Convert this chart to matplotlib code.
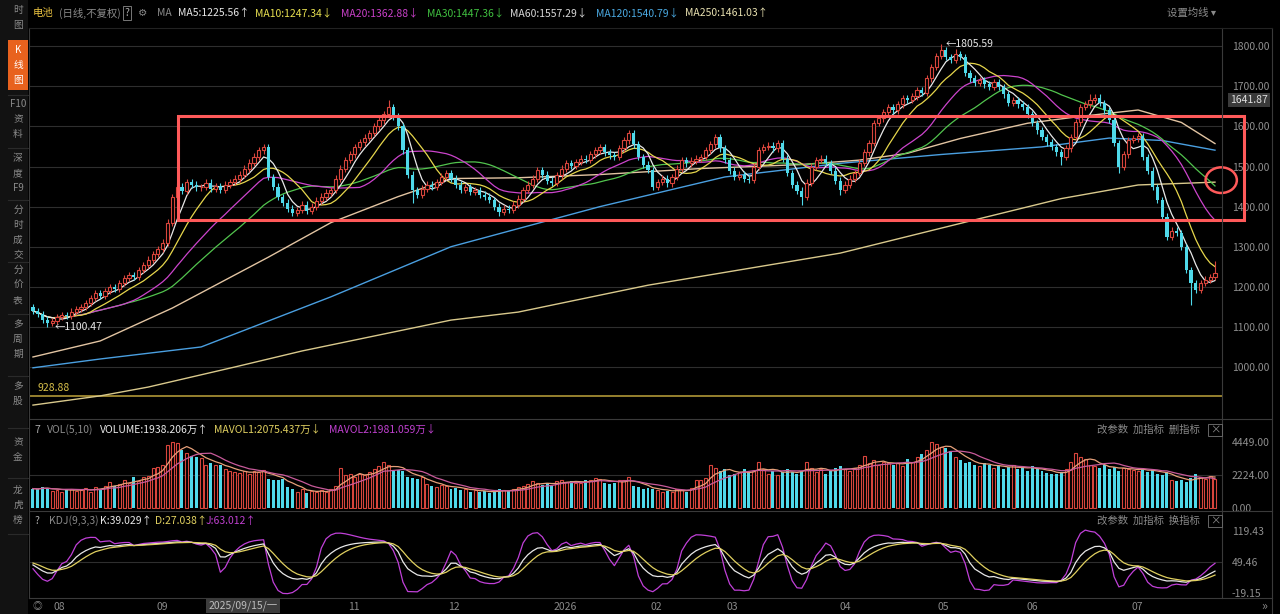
import numpy as np
import pandas as pd
import matplotlib
matplotlib.use('Agg')
import matplotlib.pyplot as plt
from matplotlib.patches import Rectangle, Ellipse
from matplotlib.lines import Line2D

plt.rcParams['font.family'] = ['Noto Sans CJK SC', 'DejaVu Sans']

# ---------------- data ----------------
closes = [
    1140, 1132, 1118, 1110, 1115, 1125, 1130, 1128, 1138, 1145,
    1150, 1160, 1172, 1185, 1178, 1190, 1200, 1195, 1210, 1222,
    1230, 1225, 1242, 1255, 1268, 1282, 1295, 1310, 1360, 1424,
    1450, 1440, 1462, 1455, 1448, 1449, 1460, 1445, 1452, 1441,
    1455, 1462, 1470, 1480, 1495, 1510, 1525, 1540, 1549, 1474,
    1450, 1424, 1410, 1395, 1384, 1392, 1405, 1390, 1400, 1415,
    1425, 1435, 1441, 1470, 1495, 1516, 1530, 1548, 1560, 1572,
    1583, 1600, 1615, 1630, 1648, 1625, 1600, 1540, 1480, 1441,
    1430, 1445, 1455, 1449, 1462, 1475, 1484, 1470, 1455, 1441,
    1448, 1436, 1441, 1430, 1425, 1417, 1400, 1387, 1395, 1392,
    1405, 1420, 1441, 1455, 1470, 1491, 1480, 1465, 1459, 1478,
    1495, 1509, 1502, 1512, 1520, 1516, 1530, 1540, 1549, 1535,
    1528, 1524, 1545, 1565, 1583, 1555, 1524, 1505, 1491, 1449,
    1462, 1470, 1458, 1474, 1495, 1516, 1508, 1515, 1520, 1524,
    1540, 1555, 1574, 1545, 1516, 1490, 1474, 1480, 1470, 1466,
    1500, 1541, 1548, 1552, 1545, 1558, 1520, 1484, 1455, 1440,
    1424, 1460, 1500, 1516, 1520, 1509, 1490, 1465, 1441, 1455,
    1470, 1484, 1510, 1535, 1558, 1608, 1620, 1635, 1648, 1640,
    1655, 1670, 1666, 1675, 1690, 1683, 1720, 1748, 1775, 1790,
    1773, 1765, 1780, 1773, 1733, 1720, 1708, 1715, 1705, 1698,
    1710, 1698, 1680, 1658, 1665, 1655, 1648, 1630, 1608, 1590,
    1574, 1560, 1549, 1535, 1524, 1545, 1574, 1610, 1648, 1655,
    1666, 1672, 1658, 1640, 1616, 1558, 1499, 1530, 1566, 1570,
    1575, 1524, 1490, 1449, 1416, 1375, 1324, 1340, 1334, 1299,
    1242, 1210, 1192, 1209, 1218, 1225, 1234]

first_open = 1150
special_highs = {48: 1556, 74: 1666, 124: 1592, 142: 1582, 155: 1566,
                 189: 1805.59, 192: 1792, 220: 1682, 246: 1265}
special_lows = {3: 1100.47, 54: 1376, 79: 1408, 97: 1376, 160: 1405,
                168: 1428, 214: 1505, 226: 1485, 241: 1155}

volumes = [
    1300, 1250, 1400, 1350, 1150, 1200, 1100, 1300, 1250, 1150,
    1200, 1350, 1100, 1400, 1300, 1500, 1750, 1450, 1600, 1900,
    1700, 2100, 1800, 2050, 2150, 2700, 2750, 2900, 4200, 4450,
    4350, 3900, 3680, 3500, 3400, 3350, 2900, 3000, 2850, 2900,
    2600, 2450, 2400, 2350, 2500, 2300, 2450, 2400, 2550, 1950,
    1900, 1850, 1950, 1400, 1300, 1100, 1250, 1000, 1150, 1050,
    1200, 1100, 1300, 1500, 2700, 2200, 2250, 2100, 2300, 2200,
    2400, 2600, 2800, 3100, 2900, 2500, 2550, 2450, 2100, 2000,
    1950, 2050, 1600, 1500, 1400, 1550, 1450, 1300, 1350, 1200,
    1250, 1100, 1200, 1050, 1150, 1000, 1100, 1300, 1200, 1150,
    1250, 1400, 1500, 1600, 1800, 1700, 1550, 1650, 1500, 1800,
    1900, 1750, 1800, 1650, 1700, 1850, 1900, 2000, 1950, 1700,
    1600, 1700, 1850, 1900, 2050, 1500, 1400, 1300, 1350, 1250,
    1200, 1100, 1150, 1050, 1300, 1200, 1100, 1350, 1900, 1850,
    2000, 2900, 2700, 2500, 2600, 2200, 2300, 2400, 2600, 2350,
    2450, 3100, 2600, 2300, 2500, 2200, 2400, 2600, 2400, 2300,
    2500, 3100, 2700, 2400, 2600, 2300, 2500, 2700, 2800, 2600,
    2500, 2700, 2900, 3500, 3000, 3200, 2900, 3100, 3000, 2900,
    3000, 2800, 3300, 3100, 3400, 3600, 3900, 4400, 4300, 4100,
    4000, 3800, 3400, 3200, 3000, 3100, 2900, 2800, 3000, 2900,
    2700, 2800, 2600, 2750, 2900, 2600, 2700, 2500, 2800, 2600,
    2500, 2350, 2300, 2250, 2400, 2600, 3100, 3700, 3400, 3300,
    2900, 2800, 2700, 2850, 2600, 2750, 2500, 2700, 2600, 2550,
    2500, 2650, 2400, 2550, 2300, 2200, 2400, 1900, 1800, 1850,
    1750, 2000, 2300, 2050, 1950, 2150, 1938.206]

# long moving averages (bar index, value)
ma60_idx = [0, 14, 29, 49, 62, 76, 87, 101, 118, 139, 160, 172, 182, 193, 207, 218, 230, 239, 246]
ma60_val = [1025, 1065, 1147, 1274, 1360, 1425, 1470, 1472, 1480, 1495, 1505, 1516, 1533, 1570,
            1608, 1625, 1641, 1610, 1557.29]
ma120_idx = [0, 14, 35, 62, 87, 100, 118, 144, 168, 189, 210, 224, 235, 246]
ma120_val = [998, 1020, 1050, 1175, 1300, 1342, 1400, 1474, 1508, 1530, 1549, 1571, 1565, 1540.79]
ma250_idx = [0, 14, 24, 42, 56, 87, 101, 128, 168, 196, 214, 230, 246]
ma250_val = [905, 928, 950, 1000, 1040, 1117, 1137, 1204, 1284, 1367, 1420, 1454, 1461.03]

price_levels = [1000, 1100, 1200, 1300, 1400, 1500, 1600, 1700, 1800]
vol_levels = [0, 2224, 4449]
kdj_levels = [-19.15, 49.46, 119.43]
tick_idx = [5.4, 27, 66.7, 87.5, 110.8, 129.8, 145.6, 169, 189.4, 208, 229.8]
tick_labels = ['08', '09', '11', '12', '2026', '02', '03', '04', '05', '06', '07']
support_level = 928.88

# ---------------- derived series ----------------
c = np.array(closes, dtype=float)
N = len(c)
o = np.r_[first_open, c[:-1]]
hi = np.maximum(o, c) + 8
lo = np.minimum(o, c) - 8
for k, v in special_highs.items():
    hi[k] = v
for k, v in special_lows.items():
    lo[k] = v
v = np.array(volumes, dtype=float)
x = np.arange(N)
up = c >= o

s = pd.Series(c)
ma5 = s.rolling(5, min_periods=1).mean()
ma10 = s.rolling(10, min_periods=1).mean()
ma20 = s.rolling(20, min_periods=1).mean()
ma30 = s.rolling(30, min_periods=1).mean()
vs = pd.Series(v)
mavol1 = vs.rolling(5, min_periods=1).mean()
mavol2 = vs.rolling(10, min_periods=1).mean()

low9 = pd.Series(lo).rolling(9, min_periods=1).min().values
high9 = pd.Series(hi).rolling(9, min_periods=1).max().values
rsv = (c - low9) / np.where(high9 - low9 == 0, 1, high9 - low9) * 100
K = np.zeros(N); D = np.zeros(N)
kp, dp = 50.0, 50.0
for i in range(N):
    kp = 2 / 3 * kp + rsv[i] / 3
    dp = 2 / 3 * dp + kp / 3
    K[i], D[i] = kp, dp
J = 3 * K - 2 * D

# ---------------- figure ----------------
W, H = 1280, 614
fig = plt.figure(figsize=(12.8, 6.14), dpi=100, facecolor='#000000')

def rect(x0, y0, x1, y1):
    return [x0 / W, 1 - y1 / H, (x1 - x0) / W, (y1 - y0) / H]

def ftext(px, py, s, color='#8a8a8a', size=7.5, ha='left', **kw):
    return fig.text(px / W, 1 - py / H, s, color=color, fontsize=size, ha=ha, va='center', **kw)

def fline(x0, y0, x1, y1, color='#3a3a3a', lw=0.8):
    fig.add_artist(Line2D([x0 / W, x1 / W], [1 - y0 / H, 1 - y1 / H], color=color, lw=lw))

RED = '#d8453c'
CYAN = '#4fd9ea'
GRID = '#2e2e2e'
XL = (-0.62, 247.46)

ax = fig.add_axes(rect(30, 28, 1222, 418), facecolor='#000000')
axv = fig.add_axes(rect(30, 420, 1222, 509), facecolor='#000000')
axk = fig.add_axes(rect(30, 512, 1222, 598), facecolor='#000000')

for a in (ax, axv, axk):
    a.set_xlim(*XL)
    for sp in a.spines.values():
        sp.set_visible(False)
    a.yaxis.set_ticks_position('right')
    a.tick_params(axis='y', length=0, pad=7, labelcolor='#8f8f8f', labelsize=7.5)
    a.tick_params(axis='x', length=0)
    a.set_xticks([])

# ---- main price panel
ax.set_ylim(872.8, 1845.5)
for lv in price_levels:
    ax.axhline(lv, color=GRID, lw=0.8, zorder=0)
ax.set_yticks(price_levels)
ax.set_yticklabels([f'{lv:.2f}' for lv in price_levels])
ax.axhline(support_level, color='#bfa43c', lw=1.1, zorder=1)
ax.text(0.9, support_level + 6, f'{support_level:.2f}', color='#d8c04a', fontsize=7.5,
        ha='left', va='bottom')

ax.plot(ma250_idx, ma250_val, color='#d9c98c', lw=1.0, zorder=2)
ax.plot(ma120_idx, ma120_val, color='#4a9fe0', lw=1.0, zorder=2)
ax.plot(ma60_idx, ma60_val, color='#e2c4a2', lw=1.0, zorder=2)
ax.plot(x, ma30, color='#52c44e', lw=0.9, zorder=2)
ax.plot(x, ma20, color='#cc44cc', lw=0.9, zorder=2)
ax.plot(x, ma10, color='#e6d64c', lw=0.9, zorder=2)
ax.plot(x, ma5, color='#e8e8e8', lw=0.9, zorder=2)

ax.vlines(x, lo, hi, colors=np.where(up, RED, CYAN), lw=0.8, zorder=3)
ax.bar(x[up], np.maximum(c - o, 1.5)[up], bottom=o[up], width=0.66, facecolor='#000000',
       edgecolor=RED, lw=0.8, zorder=4)
ax.bar(x[~up], (o - c)[~up], bottom=c[~up], width=0.66, color=CYAN, lw=0, zorder=4)

ih = int(np.argmax(hi)); il = int(np.argmin(lo))
ax.text(ih + 1.0, hi[ih], f'←{hi[ih]:.2f}', color='#e8e8e8', fontsize=7.5, ha='left', va='center')
ax.text(il + 1.6, lo[il], f'←{lo[il]:.2f}', color='#e8e8e8', fontsize=7.5, ha='left', va='center')

ax.add_patch(Rectangle((30.2, 1367), 221.8, 259, fill=False, edgecolor='#ff5a5a', lw=2.2,
                       clip_on=False, zorder=6))
ax.add_patch(Ellipse((247.3, 1466), 6.5, 64, fill=False, edgecolor='#ff5a5a', lw=1.8,
                     clip_on=False, zorder=6))

# ---- volume panel
axv.set_ylim(-67, 5896)
axv.axhline(2224, color=GRID, lw=0.8, zorder=0)
axv.set_yticks(vol_levels)
axv.set_yticklabels([f'{lv:.2f}' for lv in vol_levels])
axv.bar(x[up], v[up], width=0.62, facecolor='#000000', edgecolor=RED, lw=0.8, zorder=3)
axv.bar(x[~up], v[~up], width=0.62, color=CYAN, lw=0, zorder=3)
axv.plot(x, mavol1, color='#e6a07a', lw=0.9, zorder=4)
axv.plot(x, mavol2, color='#c85a9a', lw=0.9, zorder=4)

# ---- KDJ panel
axk.set_ylim(-30.3, 161.9)
axk.axhline(49.46, color=GRID, lw=0.8, zorder=0)
axk.set_yticks(kdj_levels)
axk.set_yticklabels([f'{lv:.2f}' for lv in kdj_levels])
axk.plot(x, J, color='#c040d8', lw=0.9)
axk.plot(x, K, color='#e8e8e8', lw=0.9)
axk.plot(x, D, color='#e0d060', lw=0.9)
axk.set_xticks(tick_idx)
axk.set_xticklabels(tick_labels)
axk.tick_params(axis='x', length=0, pad=3, labelsize=7.5, labelcolor='#8a8a8a')

# ---- frame lines
fline(29, 28, 29, 598)
fline(1222, 28, 1222, 598)
fline(1272, 28, 1272, 614)
fline(29, 419, 1272, 419)
fline(29, 511, 1272, 511)
fline(29, 598, 1272, 598)
fline(29, 28, 1272, 28, color='#222222')

# ---- sidebar
fig.add_artist(Rectangle((0, 0), 28 / W, 1, transform=fig.transFigure, facecolor='#121212',
                         edgecolor='none', zorder=0))
fig.add_artist(Rectangle((8 / W, 1 - 90 / H), 20 / W, 50 / H, transform=fig.transFigure,
                         facecolor='#e8621e', edgecolor='none'))
side_items = [(['时', '图'], 10), (['K', '线', '图'], 50), (['F10', '资', '料'], 104),
              (['深', '度', 'F9'], 158), (['分', '时', '成', '交'], 210), (['分', '价', '表'], 270),
              (['多', '周', '期'], 324), (['多', '股'], 386), (['资', '金'], 442),
              (['龙', '虎', '榜'], 490)]
for chars, y0 in side_items:
    col = '#ffffff' if chars[0] == 'K' else '#8a8a8a'
    for j, ch in enumerate(chars):
        ftext(18, y0 + j * 15, ch, color=col, size=7, ha='center')
for ys in [95, 148, 200, 262, 314, 376, 428, 478, 534]:
    fline(8, ys, 28, ys, color='#2a2a2a')

# ---- header line
hdr = [(33, '电池', '#e8c040'), (59, '(日线,不复权)', '#8a8a8a'), (157, 'MA', '#8a8a8a'),
       (178, 'MA5:1225.56↑', '#e8e8e8'), (255, 'MA10:1247.34↓', '#e8e050'),
       (341, 'MA20:1362.88↓', '#c840c8'), (427, 'MA30:1447.36↓', '#40c040'),
       (510, 'MA60:1557.29↓', '#d8d8d8'), (596, 'MA120:1540.79↓', '#4aa8e0'),
       (685, 'MA250:1461.03↑', '#e8e0b0'), (1167, '设置均线 ▾', '#8a8a8a')]
for px, s_, col in hdr:
    ftext(px, 13, s_, color=col)
ftext(127, 13, '?', color='#aaaaaa', ha='center',
      bbox=dict(facecolor='none', edgecolor='#777777', pad=1.2, lw=0.7))
ftext(143, 13, '⚙', color='#8a8a8a', ha='center')

vol_hdr = [(47, 'VOL(5,10)', '#8a8a8a'), (100, 'VOLUME:1938.206万↑', '#e8e8e8'),
           (214, 'MAVOL1:2075.437万↓', '#e0d060'), (329, 'MAVOL2:1981.059万↓', '#c040d0')]
ftext(37, 430, '7', color='#aaaaaa', ha='center')
for px, s_, col in vol_hdr:
    ftext(px, 430, s_, color=col)
kdj_hdr = [(49, 'KDJ(9,3,3)', '#8a8a8a'), (100, 'K:39.029↑', '#e8e8e8'),
           (155, 'D:27.038↑', '#e0d060'), (206, 'J:63.012↑', '#c040d0')]
ftext(37, 521, '?', color='#aaaaaa', ha='center')
for px, s_, col in kdj_hdr:
    ftext(px, 521, s_, color=col)
ftext(1097, 430, '改参数  加指标  删指标', color='#8a8a8a')
ftext(1215, 430, '×', color='#8a8a8a', ha='center',
      bbox=dict(facecolor='none', edgecolor='#666666', pad=1.0, lw=0.7))
ftext(1097, 521, '改参数  加指标  换指标', color='#8a8a8a')
ftext(1215, 521, '×', color='#8a8a8a', ha='center',
      bbox=dict(facecolor='none', edgecolor='#666666', pad=1.0, lw=0.7))

# ---- right axis highlight and date cursor
ftext(1249, 100, '1641.87', color='#e0e0e0', ha='center',
      bbox=dict(facecolor='#3a3a3a', edgecolor='none', pad=1.5))
ftext(243, 606, '2025/09/15/一', color='#bdbdbd', ha='center',
      bbox=dict(facecolor='#3c3c3c', edgecolor='none', pad=1.5))
ftext(37, 606, '◎', color='#8a8a8a', ha='center', size=7)
ftext(1264, 606, '»', color='#8a8a8a', ha='center', size=9)

fig.savefig('out.png', dpi=100, facecolor='#000000')
